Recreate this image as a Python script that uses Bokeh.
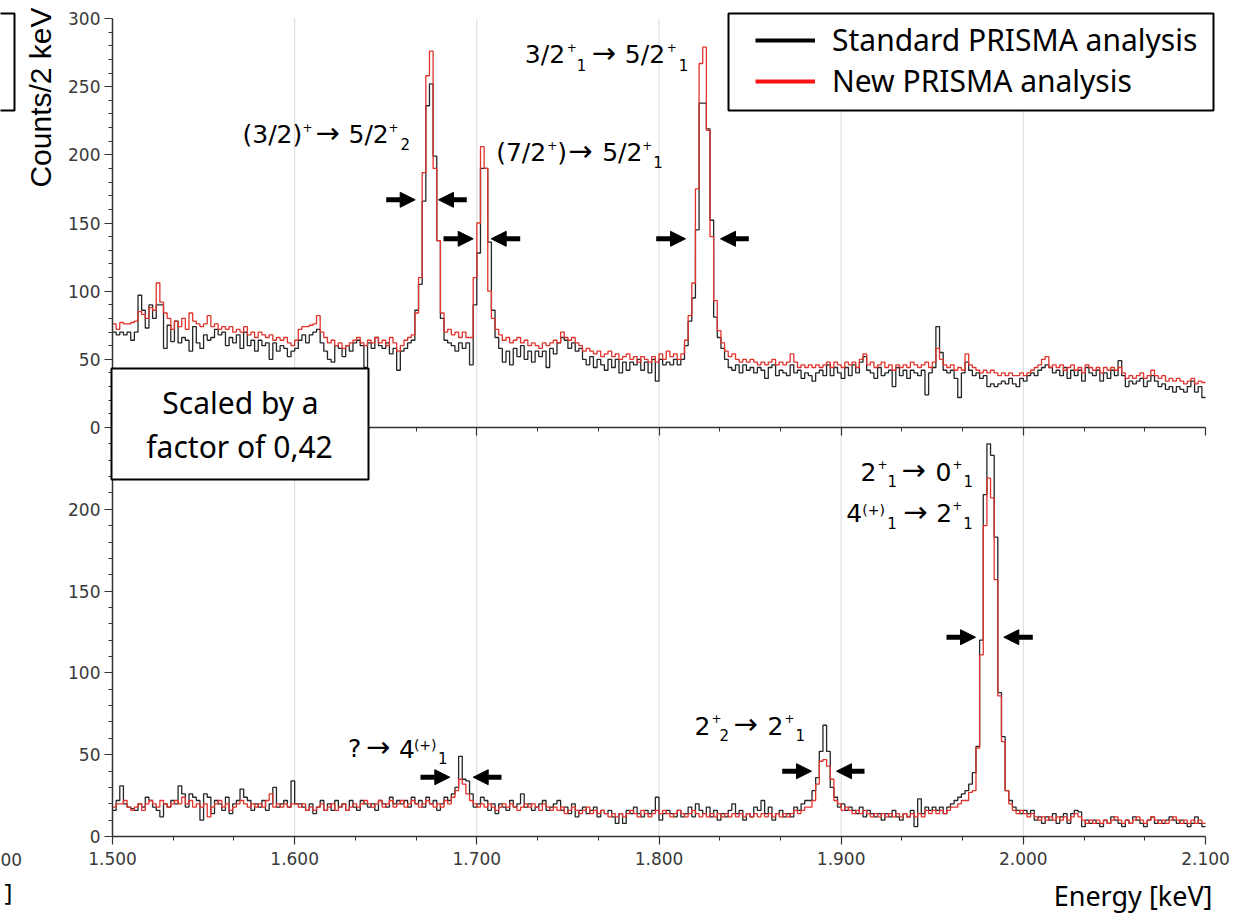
import math
import numpy as np
from bokeh.plotting import figure
from bokeh.models import (Range1d, LinearAxis, FixedTicker, Label, BoxAnnotation, Grid,
                          Legend, LegendItem, Arrow, NormalHead)
from bokeh.embed import file_html
from bokeh.resources import INLINE

# ---------------- data (counts per 2 keV bin, bins start at 1500 keV) ----------------
E_MIN = 1500
BIN_KEV = 2

# upper panel
std_top = [
    70, 68, 70, 68, 70, 64, 70, 97, 86, 73, 90, 80, 90, 90, 58, 75, 63, 78, 62, 66, 64, 56, 74, 62, 58,
    68, 64, 66, 72, 68, 70, 60, 66, 62, 68, 58, 70, 60, 64, 56, 64, 60, 62, 50, 62, 56, 60, 58, 52, 56,
    58, 64, 68, 62, 68, 70, 72, 62, 56, 50, 48, 60, 58, 52, 60, 56, 62, 64, 60, 44, 62, 58, 66, 60, 58,
    62, 54, 58, 42, 56, 58, 62, 64, 86, 105, 166, 236, 252, 199, 137, 80, 64, 62, 60, 56, 62, 58, 62, 46, 90,
    128, 190, 190, 136, 86, 66, 58, 48, 56, 46, 58, 52, 60, 50, 56, 48, 56, 52, 56, 44, 58, 54, 62, 66, 64,
    58, 62, 56, 58, 50, 46, 52, 44, 50, 46, 42, 50, 44, 50, 40, 48, 42, 48, 46, 50, 42, 48, 40, 50, 34,
    50, 46, 48, 46, 50, 46, 50, 60, 78, 95, 145, 238, 238, 219, 152, 81, 66, 58, 50, 44, 42, 46, 40, 46, 42,
    44, 40, 44, 42, 36, 44, 46, 38, 42, 40, 38, 46, 40, 42, 36, 40, 38, 34, 40, 42, 38, 46, 38, 44, 40,
    36, 44, 38, 46, 40, 48, 52, 42, 40, 36, 44, 38, 40, 42, 30, 44, 38, 42, 36, 42, 40, 38, 42, 24, 40,
    44, 74, 55, 42, 40, 42, 36, 22, 40, 48, 42, 38, 40, 36, 38, 30, 32, 30, 32, 34, 32, 36, 32, 30, 36,
    34, 38, 40, 38, 42, 44, 46, 44, 40, 42, 38, 44, 36, 42, 38, 42, 34, 44, 40, 38, 42, 34, 40, 36, 42,
    38, 49, 38, 30, 34, 32, 34, 36, 30, 34, 38, 34, 30, 32, 28, 30, 26, 30, 28, 26, 30, 34, 26, 30, 22,
]
new_top = [
    76, 72, 77, 76, 76, 77, 78, 85, 83, 80, 88, 86, 106, 92, 84, 80, 72, 78, 74, 80, 72, 84, 78, 76, 74,
    76, 82, 74, 76, 72, 74, 72, 74, 70, 72, 70, 74, 68, 70, 66, 70, 68, 66, 68, 64, 66, 64, 66, 62, 60,
    64, 72, 74, 74, 75, 76, 82, 70, 66, 62, 64, 60, 62, 58, 60, 62, 64, 66, 62, 60, 64, 62, 66, 62, 64,
    60, 66, 62, 56, 60, 64, 66, 68, 84, 110, 187, 258, 276, 190, 137, 84, 70, 72, 68, 70, 66, 70, 66, 66, 110,
    150, 206, 190, 100, 80, 72, 68, 64, 66, 62, 64, 66, 62, 64, 60, 62, 60, 58, 62, 60, 62, 64, 62, 70, 66,
    64, 66, 62, 60, 56, 58, 56, 54, 56, 52, 54, 56, 52, 54, 50, 52, 54, 50, 52, 48, 52, 50, 48, 52, 48,
    54, 50, 56, 52, 54, 50, 54, 64, 82, 106, 175, 267, 279, 218, 140, 93, 71, 62, 56, 52, 54, 50, 48, 50, 48,
    50, 48, 46, 48, 46, 48, 50, 46, 48, 46, 48, 54, 48, 44, 46, 44, 46, 44, 46, 44, 46, 48, 44, 48, 46,
    44, 48, 46, 48, 44, 50, 54, 46, 48, 44, 46, 48, 44, 46, 42, 46, 44, 46, 44, 48, 46, 44, 46, 48, 44,
    48, 58, 50, 46, 44, 46, 42, 44, 42, 54, 46, 44, 42, 40, 42, 40, 42, 40, 38, 40, 38, 40, 38, 38, 40,
    38, 40, 42, 44, 46, 50, 52, 44, 46, 44, 46, 42, 44, 46, 42, 44, 40, 46, 44, 42, 44, 40, 44, 42, 44,
    42, 44, 40, 36, 38, 36, 38, 40, 36, 38, 42, 38, 36, 38, 34, 36, 34, 36, 34, 32, 34, 36, 32, 34, 33,
]

# lower panel
std_bot = [
    16, 22, 31, 20, 18, 17, 16, 20, 18, 24, 22, 18, 16, 12, 20, 18, 22, 20, 31, 26, 18, 26, 24, 22, 10,
    26, 24, 14, 22, 20, 16, 24, 14, 20, 22, 29, 24, 22, 16, 20, 18, 22, 16, 20, 30, 18, 20, 22, 18, 34,
    20, 20, 18, 16, 20, 14, 18, 22, 16, 20, 16, 22, 18, 20, 16, 22, 18, 16, 22, 20, 18, 20, 16, 22, 20,
    18, 24, 20, 22, 20, 22, 18, 24, 20, 22, 18, 24, 20, 22, 16, 20, 24, 22, 26, 30, 49, 35, 34, 26, 18,
    20, 24, 22, 16, 20, 14, 20, 18, 16, 22, 18, 20, 26, 18, 20, 16, 18, 20, 22, 16, 18, 20, 22, 16, 18,
    14, 20, 12, 16, 18, 14, 16, 18, 12, 16, 14, 16, 12, 8, 14, 8, 16, 14, 18, 14, 12, 16, 14, 16, 24,
    10, 14, 16, 14, 12, 16, 12, 14, 18, 12, 20, 16, 14, 18, 12, 16, 10, 14, 12, 16, 20, 14, 16, 10, 14,
    12, 18, 16, 22, 14, 18, 10, 14, 16, 12, 14, 12, 18, 16, 20, 22, 22, 28, 36, 52, 68, 52, 30, 24, 18,
    20, 16, 18, 16, 14, 18, 12, 16, 14, 12, 14, 10, 14, 12, 16, 12, 10, 14, 12, 16, 6, 23, 14, 18, 16,
    18, 16, 18, 14, 18, 20, 22, 24, 26, 28, 32, 39, 55, 120, 209, 240, 233, 183, 88, 61, 28, 22, 18, 16, 14,
    16, 14, 16, 10, 12, 8, 12, 10, 14, 8, 12, 14, 8, 14, 16, 15, 6, 10, 8, 10, 8, 6, 10, 8, 12,
    10, 8, 6, 10, 8, 12, 10, 8, 6, 10, 12, 8, 10, 8, 10, 12, 10, 8, 10, 8, 6, 8, 12, 8, 6,
]
new_bot = [
    18, 20, 20, 22, 18, 16, 18, 20, 16, 20, 22, 20, 18, 22, 20, 18, 20, 22, 20, 24, 20, 22, 18, 20, 18,
    20, 12, 18, 20, 22, 18, 20, 16, 18, 20, 22, 20, 18, 20, 18, 20, 18, 22, 26, 18, 20, 18, 20, 18, 20,
    20, 18, 20, 16, 18, 16, 18, 20, 16, 18, 20, 16, 18, 20, 16, 18, 20, 18, 20, 22, 20, 18, 20, 22, 18,
    20, 22, 18, 20, 22, 18, 20, 22, 20, 18, 20, 22, 20, 18, 20, 18, 22, 20, 24, 28, 35, 32, 26, 22, 20,
    18, 20, 18, 20, 18, 16, 18, 20, 18, 20, 18, 16, 18, 20, 18, 20, 18, 16, 20, 18, 16, 18, 16, 18, 14,
    16, 18, 16, 14, 16, 18, 14, 16, 14, 16, 14, 12, 14, 12, 14, 12, 14, 16, 14, 12, 16, 14, 12, 14, 16,
    14, 16, 14, 12, 14, 16, 14, 12, 14, 16, 14, 12, 14, 12, 14, 12, 14, 12, 14, 12, 14, 12, 14, 12, 14,
    12, 14, 12, 14, 12, 14, 12, 14, 12, 14, 12, 14, 16, 14, 16, 18, 18, 22, 32, 46, 47, 43, 35, 22, 20,
    16, 18, 16, 14, 16, 14, 16, 14, 12, 14, 12, 14, 12, 14, 12, 14, 12, 14, 12, 14, 12, 14, 12, 16, 14,
    16, 14, 16, 14, 16, 18, 18, 20, 22, 22, 27, 28, 54, 111, 190, 219, 207, 157, 86, 58, 28, 20, 16, 14, 16,
    14, 12, 14, 12, 10, 12, 10, 12, 10, 12, 10, 12, 10, 12, 14, 12, 10, 8, 10, 8, 10, 8, 10, 8, 10,
    12, 10, 8, 10, 8, 10, 12, 10, 8, 10, 12, 10, 8, 10, 8, 10, 12, 10, 8, 10, 8, 10, 8, 10, 8,
]
for arr in (std_top, new_top, std_bot, new_bot):
    assert len(arr) == 300, len(arr)

X_TICKS = [1500, 1600, 1700, 1800, 1900, 2000, 2100]
X_TICK_LABELS = ["1.500", "1.600", "1.700", "1.800", "1.900", "2.000", "2.100"]
Y_TOP_TICKS = [0, 50, 100, 150, 200, 250, 300]
Y_BOT_TICKS = [0, 50, 100, 150, 200]
TOP_MAX = 300
BOT_MAX = 250
SERIES_LABELS = ["Standard PRISMA analysis", "New PRISMA analysis"]
E_MAX = E_MIN + BIN_KEV * len(std_top)

# ---------------- page geometry (pixels) ----------------
W, H = 1253, 913
PX_L, PX_R = 112, 1205          # plot area left / right
PY_TOP, PY_MID, PY_BOT = 18, 427, 836
KEV_PER_PX = (E_MAX - E_MIN) / (PX_R - PX_L)
S_BOT = (PY_BOT - PY_MID) / BOT_MAX     # px per count, lower panel
S_TOP = (PY_MID - PY_TOP) / TOP_MAX     # px per count, upper panel
BASE_FIX = 0.36                         # baseline correction (fraction of font size)


def kx(px):
    return E_MIN + (px - PX_L) * KEV_PER_PX


def by(py):
    return (PY_BOT - py) / S_BOT


# ---------------- styling ----------------
BLACK = "#262626"
RED = "#e0342c"
AXIS_COL = "#333333"
TICK_FONT = "DejaVu Sans"
ANNOT_FONT = "DejaVu Sans"
TEXT_FONT = "Noto Sans"

p = figure(width=W, height=H, min_border=0,
           x_range=Range1d(kx(0), kx(W)),
           y_range=Range1d(by(H), by(0)),
           x_axis_location=None, y_axis_location=None,
           output_backend="svg", toolbar_location=None,
           background_fill_color="white", border_fill_color="white", outline_line_color=None)
p.extra_y_ranges = {"top": Range1d(-(H - PY_MID) / S_TOP, PY_MID / S_TOP)}
p.center = [r for r in p.center if not isinstance(r, Grid)]

# vertical grid lines (plot area only)
GRID_X = X_TICKS[1:-1]
p.segment(x0=GRID_X, y0=[0] * len(GRID_X), x1=GRID_X, y1=[2 * BOT_MAX] * len(GRID_X),
          line_color="#dadada", line_width=1, level="underlay")

minor_x = [a + (b - a) * k / 3 for a, b in zip(X_TICKS[:-1], X_TICKS[1:]) for k in (1, 2)]


def style_axis(ax):
    ax.axis_line_color = AXIS_COL
    ax.axis_line_width = 1.5
    ax.major_tick_line_color = AXIS_COL
    ax.minor_tick_line_color = AXIS_COL
    ax.major_tick_line_width = 1.2
    ax.minor_tick_line_width = 1
    ax.major_tick_in = 0
    ax.major_tick_out = 8
    ax.minor_tick_in = 0
    ax.minor_tick_out = 4
    ax.major_label_text_font = TICK_FONT
    ax.major_label_text_font_size = "17px"
    ax.major_label_text_color = "#3a3a3a"


# energy axis (bottom)
xa = LinearAxis(fixed_location=0, bounds=(E_MIN, E_MAX),
                ticker=FixedTicker(ticks=X_TICKS, minor_ticks=minor_x))
style_axis(xa)
xa.major_label_overrides = dict(zip(X_TICKS, X_TICK_LABELS))
xa.major_label_standoff = 7
p.add_layout(xa, "below")

# shared middle axis (bottom edge of the upper panel)
mid = LinearAxis(fixed_location=BOT_MAX, bounds=(E_MIN, E_MAX),
                 ticker=FixedTicker(ticks=X_TICKS, minor_ticks=minor_x))
style_axis(mid)
mid.major_label_overrides = {t: "" for t in X_TICKS}
mid.major_label_text_font_size = "0px"
mid.major_label_standoff = 0
p.add_layout(mid, "below")


# one left spine carrying both panels' scales
def top_to_axis(v):
    return BOT_MAX + v * BOT_MAX / TOP_MAX


y_pos = list(Y_BOT_TICKS) + [top_to_axis(t) for t in Y_TOP_TICKS]
y_lab = [str(t) for t in Y_BOT_TICKS] + [str(t) for t in Y_TOP_TICKS]
y_minor = [v for v in range(10, BOT_MAX, 10) if v not in Y_BOT_TICKS] + \
          [top_to_axis(v) for v in range(10, TOP_MAX, 10) if v not in Y_TOP_TICKS]
ya = LinearAxis(fixed_location=E_MIN, bounds=(0, 2 * BOT_MAX),
                ticker=FixedTicker(ticks=y_pos, minor_ticks=y_minor))
style_axis(ya)
ya.major_label_overrides = dict(zip(y_pos, y_lab))
ya.major_label_standoff = 4
p.add_layout(ya, "left")

# ---------------- histograms ----------------
edges = E_MIN + BIN_KEV * np.arange(len(std_top) + 1)


def stairs(v):
    return list(v) + [v[-1]]


p.step(edges, stairs(std_bot), mode="after", line_color=BLACK, line_width=1.3)
p.step(edges, stairs(new_bot), mode="after", line_color=RED, line_width=1.3)
p.step(edges, stairs(std_top), mode="after", line_color=BLACK, line_width=1.3, y_range_name="top")
p.step(edges, stairs(new_top), mode="after", line_color=RED, line_width=1.3, y_range_name="top")


def text_at(px, py, text, size, font, align="left", dx=0, dy=0, color="black"):
    """Text whose alphabetic baseline sits at page pixel (px, py)."""
    p.add_layout(Label(x=kx(px), y=by(py), x_offset=dx, y_offset=dy + BASE_FIX * size, text=text,
                       text_font=font, text_font_size=f"{size}px", text_color=color,
                       text_align=align, text_baseline="alphabetic"))


# ---------------- legend ----------------
p.add_layout(BoxAnnotation(left=kx(728), right=kx(1213), top=by(13), bottom=by(110),
                           fill_color="white", fill_alpha=1, line_color="black", line_alpha=1,
                           line_width=2))
leg_std = p.line(x=[np.nan], y=[np.nan], line_color="black", line_width=4)
leg_new = p.line(x=[np.nan], y=[np.nan], line_color="#ff1010", line_width=4)
legend = Legend(items=[LegendItem(label=SERIES_LABELS[0], renderers=[leg_std]),
                       LegendItem(label=SERIES_LABELS[1], renderers=[leg_new])],
                location=(755, H - 101), padding=0, margin=0, spacing=0,
                glyph_width=60, glyph_height=20, label_standoff=17,
                label_text_font=TEXT_FONT, label_text_font_size="30px", label_text_color="black",
                border_line_color=None, background_fill_alpha=0)
p.add_layout(legend)

# ---------------- scaling note ----------------
p.add_layout(BoxAnnotation(left=kx(111), right=kx(368), top=by(368), bottom=by(479),
                           fill_color="white", fill_alpha=1, line_color="black", line_alpha=1,
                           line_width=2))
text_at(240, 413, "Scaled by a", 30, TEXT_FONT, align="center")
text_at(239, 457, "factor of 0,42", 30, TEXT_FONT, align="center")

# ---------------- axis titles ----------------
p.add_layout(Label(x=kx(40), y=by(97), text="Counts/2 keV", angle=math.pi / 2,
                   text_align="center", text_baseline="middle",
                   text_font="Liberation Sans", text_font_size="30px", text_color="black"))
text_at(1212, 905, "Energy [keV]", 27, TEXT_FONT, align="right")

# ---------------- transition labels (pieces: text, dx px, dy px, size) ----------------
M, SUP, SUB, AR, PAR = 25, 12, 15, 29, 14
LABELS = [
    (242, 143, [("(3/2)", 0, 0, M), ("+", 60, 12, SUP), ("→", 73, 0, AR), ("5/2", 106, 0, M),
                ("+", 146, 12, SUP), ("2", 158, -6, SUB)]),
    (495.7, 161, [("(7/2", 0, 0, M), ("+", 51, 12, SUP), (")", 61, 0, M), ("→", 72, 0, AR),
                  ("5/2", 106, 0, M), ("+", 146, 12, SUP), ("1", 157, -6, SUB)]),
    (524.3, 63.3, [("3/2", 0, 0, M), ("+", 42, 12, SUP), ("1", 52, -7, SUB), ("→", 67, 0, AR),
                   ("5/2", 100, 0, M), ("+", 142, 12, SUP), ("1", 154, -7, SUB)]),
    (860, 480, [("2", 0, 0, M), ("+", 17, 12, SUP), ("1", 27, -6, SUB), ("→", 41, 0, AR),
                ("0", 75, 0, M), ("+", 92, 12, SUP), ("1", 103, -6, SUB)]),
    (845.7, 521.7, [("4", 0, 0, M), ("(+)", 16, 7, PAR), ("1", 41, -6, SUB), ("→", 57, 0, AR),
                    ("2", 90, 0, M), ("+", 106, 12, SUP), ("1", 117, -6, SUB)]),
    (347.4, 757, [("?", 0, 0, M), ("→", 18, 0, AR), ("4", 51, 0, M), ("(+)", 66, 7, PAR),
                  ("1", 90, -6, SUB)]),
    (694, 734, [("2", 0, 0, M), ("+", 17, 12, SUP), ("2", 25, -6, SUB), ("→", 39, 0, AR),
                ("2", 73, 0, M), ("+", 90, 12, SUP), ("1", 101, -6, SUB)]),
]
for px, py, parts in LABELS:
    for text, dx, dy, size in parts:
        text_at(px, py, text, size, ANNOT_FONT, dx=dx, dy=dy)

# ---------------- width markers (arrows: tail px, tip px, y px) ----------------
ARROWS = [
    (385.7, 414.7, 199.3), (466.3, 438.0, 199.3),
    (443.0, 472.7, 238.3), (519.7, 490.7, 238.3),
    (655.7, 685.0, 238.3), (748.3, 720.0, 238.3),
    (420.0, 449.3, 776.7), (501.0, 472.7, 776.7),
    (781.7, 811.0, 770.7), (864.0, 836.0, 770.7),
    (946.0, 975.0, 636.7), (1032.3, 1003.3, 636.7),
]
for xs, xe, yy in ARROWS:
    p.add_layout(Arrow(end=NormalHead(size=15, fill_color="black", line_color="black", line_width=1),
                       x_start=kx(xs), y_start=by(yy), x_end=kx(xe), y_end=by(yy),
                       line_color="black", line_width=5))

# ---------------- cropped remnants at the left edge ----------------
p.add_layout(BoxAnnotation(left=kx(-20), right=kx(14), top=by(13), bottom=by(110),
                           fill_alpha=0, line_color="black", line_alpha=1, line_width=2))
text_at(0, 865, "00", 17, TICK_FONT, color="#3a3a3a")
text_at(4, 900, "]", 24, TEXT_FONT, align="left")

open("out.html", "w").write(file_html(p, INLINE))
